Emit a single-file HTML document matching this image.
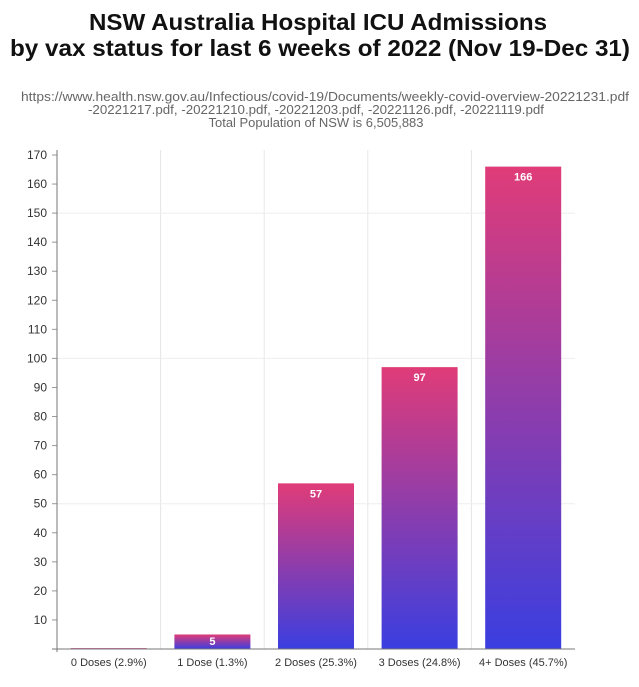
<!DOCTYPE html>
<html><head><meta charset="utf-8"><style>
body{margin:0;background:#fff;font-family:"Liberation Sans",sans-serif;}
</style></head><body>
<svg width="639" height="682" xmlns="http://www.w3.org/2000/svg">
<defs><linearGradient id="g" x1="0" y1="0" x2="0" y2="1">
<stop offset="0" stop-color="#e03c78"/><stop offset="1" stop-color="#3a3ee0"/></linearGradient></defs>
<rect width="639" height="682" fill="#fff"/>
<text x="318" y="30" text-anchor="middle" font-size="23" font-weight="bold" fill="#111" textLength="458" lengthAdjust="spacingAndGlyphs">NSW Australia Hospital ICU Admissions</text>
<text x="320" y="56" text-anchor="middle" font-size="23" font-weight="bold" fill="#111" textLength="620" lengthAdjust="spacingAndGlyphs">by vax status for last 6 weeks of 2022 (Nov 19-Dec 31)</text>
<g font-size="12.5" fill="#666" text-anchor="middle">
<text x="325" y="101" textLength="608" lengthAdjust="spacingAndGlyphs">https://www.health.nsw.gov.au/Infectious/covid-19/Documents/weekly-covid-overview-20221231.pdf</text>
<text x="316" y="114" textLength="456" lengthAdjust="spacingAndGlyphs">-20221217.pdf, -20221210.pdf, -20221203.pdf, -20221126.pdf, -20221119.pdf</text>
<text x="316" y="127" textLength="215" lengthAdjust="spacingAndGlyphs">Total Population of NSW is 6,505,883</text>
</g>
<g id="grid"></g><g id="bars"></g><g id="axes"></g>
</svg>
<script>
const categories=["0 Doses (2.9%)","1 Dose (1.3%)","2 Doses (25.3%)","3 Doses (24.8%)","4+ Doses (45.7%)"];
const values=[0.3,5,57,97,166];
const labels=["","5","57","97","166"];
const yTicks=[10,20,30,40,50,60,70,80,90,100,110,120,130,140,150,160,170];
const NS="http://www.w3.org/2000/svg";
const x0=57,x1=575,y0=649,yTop=155,yMax=170;
const bw=(x1-x0)/categories.length;
const y=v=>y0-(v/yMax)*(y0-yTop);
function mk(t,a,p){const e=document.createElementNS(NS,t);for(const k in a)e.setAttribute(k,a[k]);p.appendChild(e);return e;}
const grid=document.getElementById('grid'),bars=document.getElementById('bars'),axes=document.getElementById('axes');
for(let i=1;i<categories.length;i++){const l=mk('line',{x1:x0+i*bw,x2:x0+i*bw,y1:yTop-5,y2:y0,stroke:'#e6e6e6'},grid);

}
[50,100,150].forEach(v=>{const l=mk('line',{x1:x0,x2:x1,y1:y(v),y2:y(v),stroke:'#eee'},grid);

});
categories.forEach((c,i)=>{const cx=x0+bw*(i+0.5);const top=y(values[i]);
const r=mk('rect',{x:cx-38,y:top,width:76,height:y0-top,fill:'url(#g)'},bars);


if(labels[i]){const t=mk('text',{x:cx,y:i==1?y0-4:top+14,'text-anchor':'middle','font-size':11,'font-weight':'bold',fill:'#fff'},bars);t.textContent=labels[i];

}
const t=mk('text',{x:cx,y:666,'text-anchor':'middle','font-size':11,fill:'#333'},axes);t.textContent=c;

});
yTicks.forEach(v=>{const t=mk('text',{x:47,y:y(v)+4,'text-anchor':'end','font-size':12,fill:'#333'},axes);t.textContent=v;


mk('line',{x1:52,x2:57,y1:y(v),y2:y(v),stroke:'#999'},axes);});
const ya=mk('line',{x1:x0,x2:x0,y1:yTop-5,y2:y0+3,stroke:'#777'},axes);


const xa=mk('line',{x1:x0-5,x2:x1,y1:y0,y2:y0,stroke:'#777'},axes);


</script>
</body></html>
